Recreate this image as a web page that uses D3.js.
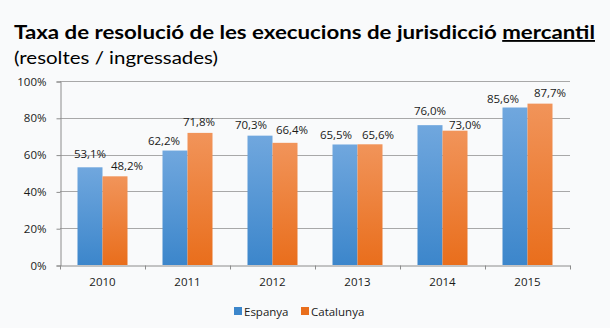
<!DOCTYPE html>
<html>
<head>
<meta charset="utf-8">
<script src="https://cdn.jsdelivr.net/npm/d3@7"></script>
<style>
  html, body { margin: 0; padding: 0; background: #f9fafb; }
  svg { display: block; }
  text { font-family: "Open Sans", sans-serif; fill: #1a1a1a; }
</style>
</head>
<body>
<div class="chart"></div>
<script>
// dades
const years = ["2010", "2011", "2012", "2013", "2014", "2015"];
const seriesNames = ["Espanya", "Catalunya"];
const espanya = [53.1, 62.2, 70.3, 65.5, 76.0, 85.6];
const catalunya = [48.2, 71.8, 66.4, 65.6, 73.0, 87.7];
const yTicks = [0, 20, 40, 60, 80, 100];

// petits desplaçaments de les etiquetes perquè no se solapin [dx, dy]
const labelNudge = {
  Espanya:   [[0, -3], [-11, 0], [-9, -1], [-9, 1], [0, -4], [-12, 2]],
  Catalunya: [[12, 0], [-1, -1], [7, -3], [8, 1], [10, 4], [10, -1]]
};

const width = 610, height = 328;
const margin = {top: 81, right: 40, bottom: 63, left: 60};

const svg = d3.select(".chart").append("svg")
  .attr("width", width)
  .attr("height", height);

svg.append("rect").attr("width", width).attr("height", height).attr("fill", "#f9fafb");

// degradats de les barres
const defs = svg.append("defs");
const grads = {
  Espanya: ["#70a7de", "#3c86cb"],
  Catalunya: ["#f1945a", "#e96e1c"]
};
Object.entries(grads).forEach(([k, c]) => {
  const g = defs.append("linearGradient").attr("id", "g-" + k)
    .attr("x1", 0).attr("y1", 0).attr("x2", 0).attr("y2", 1);
  g.append("stop").attr("offset", "0%").attr("stop-color", c[0]);
  g.append("stop").attr("offset", "100%").attr("stop-color", c[1]);
});

// títol
const title = svg.append("text")
  .attr("x", 14).attr("y", 39)
  .attr("textLength", 581).attr("lengthAdjust", "spacingAndGlyphs")
  .style("font-family", "Lato, sans-serif")
  .style("font-weight", "bold")
  .style("font-size", "18.5px")
  .style("fill", "#000");
title.append("tspan").text("Taxa de resolució de les execucions de jurisdicció ");
title.append("tspan").text("mercantil").style("text-decoration", "underline");

svg.append("text")
  .attr("x", 14).attr("y", 64)
  .attr("textLength", 204).attr("lengthAdjust", "spacingAndGlyphs")
  .style("font-family", "Lato, sans-serif")
  .style("font-size", "17px")
  .style("fill", "#000")
  .text("(resoltes / ingressades)");

const x0 = d3.scaleBand()
  .domain(years)
  .range([margin.left, width - margin.right]);

const x1 = d3.scaleBand()
  .domain(seriesNames)
  .range([0, x0.bandwidth()])
  .paddingOuter(0.7);

const y = d3.scaleLinear()
  .domain([0, 100])
  .range([height - margin.bottom, margin.top]);

// línies de la graella
svg.append("g")
  .selectAll("line")
  .data(yTicks.filter(d => d > 0))
  .join("line")
  .attr("x1", margin.left).attr("x2", width - margin.right)
  .attr("y1", d => Math.round(y(d)) + 0.5).attr("y2", d => Math.round(y(d)) + 0.5)
  .attr("stroke", "#a8a8a8");

// eix Y
const yAxis = svg.append("g")
  .attr("transform", "translate(" + (margin.left + 0.5) + ",0.5)")
  .call(d3.axisLeft(y).tickValues(yTicks).tickSize(4).tickPadding(10)
    .tickFormat(d => d + "%"));
yAxis.select(".domain").attr("stroke", "#8c8c8c");
yAxis.selectAll(".tick line").attr("stroke", "#8c8c8c");
yAxis.selectAll("text").style("font-size", "11.5px").attr("fill", "#1a1a1a");

// barres
const groups = svg.append("g")
  .selectAll("g")
  .data(years)
  .join("g")
  .attr("transform", d => "translate(" + x0(d) + ",0)");

const rows = (yr, i) => [
  {name: "Espanya", value: espanya[i], i},
  {name: "Catalunya", value: catalunya[i], i}
];

groups.selectAll("rect")
  .data(rows)
  .join("rect")
  .attr("x", d => x1(d.name))
  .attr("width", x1.bandwidth())
  .attr("y", d => y(d.value))
  .attr("height", d => y(0) - y(d.value))
  .attr("fill", d => "url(#g-" + d.name + ")");

groups.selectAll("text")
  .data(rows)
  .join("text")
  .attr("x", d => x1(d.name) + x1.bandwidth() / 2 + labelNudge[d.name][d.i][0])
  .attr("y", d => y(d.value) - 6 + labelNudge[d.name][d.i][1])
  .attr("text-anchor", "middle")
  .style("font-size", "11.5px")
  .text(d => d.value.toFixed(1).replace(".", ",") + "%");

// eix X
const xAxis = svg.append("g")
  .attr("transform", "translate(0," + (y(0) + 0.5) + ")")
  .call(d3.axisBottom(x0).tickSize(0).tickPadding(12));
xAxis.select(".domain").attr("stroke", "#8c8c8c");
xAxis.selectAll("text").style("font-size", "11.5px").attr("fill", "#1a1a1a");
xAxis.selectAll(".sep")
  .data(years.concat(["end"]))
  .join("line")
  .attr("class", "sep")
  .attr("x1", (d, i) => Math.round(margin.left + i * x0.step()) + 0.5)
  .attr("x2", (d, i) => Math.round(margin.left + i * x0.step()) + 0.5)
  .attr("y1", 0).attr("y2", 4)
  .attr("stroke", "#8c8c8c");

// llegenda
const legend = svg.append("g").attr("transform", "translate(234,307)");
const legendX = [0, 67];
seriesNames.forEach((s, i) => {
  const g = legend.append("g").attr("transform", "translate(" + legendX[i] + ",0)");
  g.append("rect").attr("width", 8).attr("height", 8).attr("fill", grads[s][1]);
  g.append("text").attr("x", 10).attr("y", 8.5).style("font-size", "11.5px").text(s);
});
</script>
</body>
</html>
